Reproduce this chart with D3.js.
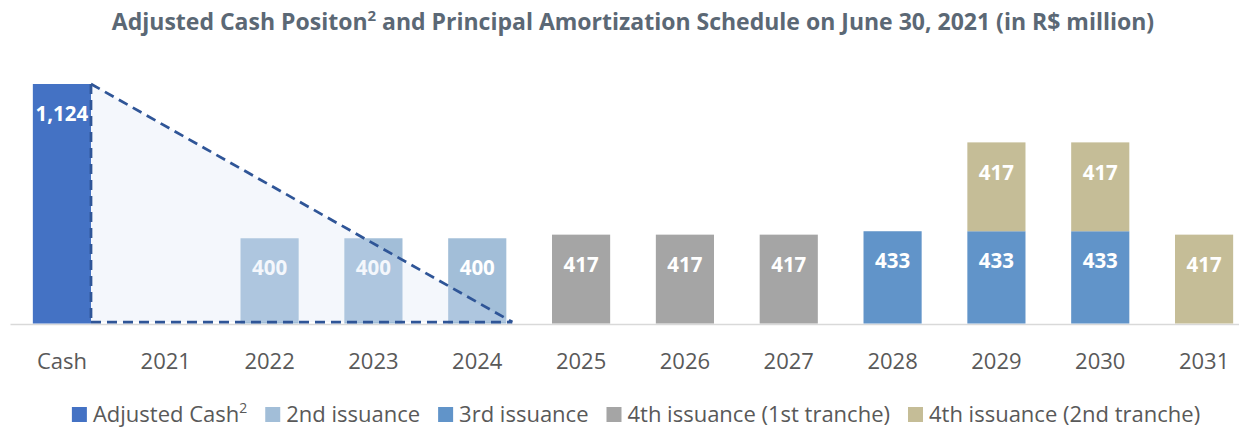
<!DOCTYPE html>
<html>
<head>
<meta charset="utf-8">
<script src="https://cdn.jsdelivr.net/npm/d3@7"></script>
<style>
  body { margin: 0; background: #fff; }
  text { font-family: "Open Sans", "Noto Sans", sans-serif; }
</style>
</head>
<body>
<svg width="1239" height="427"></svg>
<script>
// Data
let categories = ['Cash', '2021', '2022', '2023', '2024', '2025', '2026', '2027', '2028', '2029', '2030', '2031']
let adjustedCash = [1124, 0, 0, 0, 0, 0, 0, 0, 0, 0, 0, 0]
let secondIssuance = [0, 0, 400, 400, 400, 0, 0, 0, 0, 0, 0, 0]
let thirdIssuance = [0, 0, 0, 0, 0, 0, 0, 0, 433, 433, 433, 0]
let fourthFirstTranche = [0, 0, 0, 0, 0, 417, 417, 417, 0, 0, 0, 0]
let fourthSecondTranche = [0, 0, 0, 0, 0, 0, 0, 0, 0, 417, 417, 417]
let seriesNames = ['Adjusted Cash', '2nd issuance', '3rd issuance', '4th issuance (1st tranche)', '4th issuance (2nd tranche)']
let seriesColors = ['#4472c4', '#a2bed8', '#6194c9', '#a5a5a5', '#c5bd97']

let rows = categories.map((c, i) => ({
    cat: c,
    'Adjusted Cash': adjustedCash[i],
    '2nd issuance': secondIssuance[i],
    '3rd issuance': thirdIssuance[i],
    '4th issuance (1st tranche)': fourthFirstTranche[i],
    '4th issuance (2nd tranche)': fourthSecondTranche[i]
}))

let stacked = d3.stack().keys(seriesNames)(rows)

let svg = d3.select('svg')

let scale = {
    x: d3.scaleBand().domain(categories).range([10, 1256]).paddingInner(0.44).paddingOuter(0.22),
    y: d3.scaleLinear().domain([0, 1124]).range([323.5, 84])
}
let bw = scale.x.bandwidth()

// Title
let title = svg.append('text')
    .attr('x', 633)
    .attr('y', 30)
    .attr('text-anchor', 'middle')
    .attr('font-size', 23)
    .attr('font-weight', 'bold')
    .attr('fill', '#5b6875')
title.append('tspan').text('Adjusted Cash Positon')
title.append('tspan').attr('dy', -9).attr('font-size', 15).text('2')
title.append('tspan').attr('dy', 9).text(' and Principal Amortization Schedule on June 30, 2021 (in R$ million)')

// Triangle (cash coverage)
let x0 = scale.x('Cash') + bw
let x1 = scale.x('2024') + bw + 6
let yTop = scale.y(1124)
let yBase = scale.y(0) - 1.5
let triangle = `M${x0},${yTop} L${x1},${yBase} L${x0},${yBase} Z`

// Axis
let axis = svg.append('g')
    .attr('transform', `translate(0,${scale.y(0) + 0.5})`)
    .call(d3.axisBottom(scale.x).tickSize(0).tickPadding(29))
axis.select('.domain').attr('stroke', '#d9d9d9').attr('stroke-width', 1.5)
axis.selectAll('text')
    .attr('font-size', 22)
    .attr('fill', '#595959')
    .style('font-family', '"Open Sans", "Noto Sans", sans-serif')

// Bars
let layers = svg.append('g').selectAll('g')
    .data(stacked)
    .join('g')
    .attr('fill', (d, i) => seriesColors[i])

layers.selectAll('rect')
    .data(d => d.filter(s => s[1] - s[0] > 0))
    .join('rect')
    .attr('x', d => scale.x(d.data.cat))
    .attr('y', d => scale.y(d[1]))
    .attr('width', bw)
    .attr('height', d => scale.y(d[0]) - scale.y(d[1]))

// light overlay of triangle over bars
svg.append('path')
    .attr('d', triangle)
    .attr('fill', '#d5e0f3')
    .attr('fill-opacity', 0.25)

// Dashed outline of triangle
let dash = svg.append('g')
    .attr('fill', 'none')
    .attr('stroke', '#2f5597')
    .attr('stroke-width', 2.75)
    .attr('stroke-dasharray', '10,6')
dash.append('line').attr('x1', x0).attr('y1', yTop).attr('x2', x1).attr('y2', yBase)
dash.append('line').attr('x1', x0).attr('y1', yTop).attr('x2', x0).attr('y2', yBase)
dash.append('line').attr('x1', x0).attr('y1', yBase).attr('x2', x1).attr('y2', yBase)

// Labels
layers.selectAll('text')
    .data(d => d.filter(s => s[1] - s[0] > 0))
    .join('text')
    .attr('x', d => scale.x(d.data.cat) + bw / 2)
    .attr('y', d => scale.y(d[1]) + 30)
    .attr('dy', '0.35em')
    .attr('text-anchor', 'middle')
    .attr('font-size', 20.5)
    .attr('font-weight', 'bold')
    .attr('fill', '#ffffff')
    .text(d => d3.format(',')(d[1] - d[0]))

// Legend
let legend = svg.append('g')
let lx = 0
seriesNames.forEach((name, i) => {
    let item = legend.append('g').attr('transform', `translate(${lx},0)`)
    item.append('rect')
        .attr('x', 0).attr('y', -15)
        .attr('width', 15).attr('height', 15)
        .attr('fill', seriesColors[i])
    let t = item.append('text')
        .attr('x', 21)
        .attr('y', 0)
        .attr('font-size', 22)
        .attr('fill', '#595959')
    t.append('tspan').text(name)
    if (i === 0) t.append('tspan').attr('dy', -9).attr('font-size', 14).text('2')
    lx += 21 + t.node().getComputedTextLength() + 18
})
let legendWidth = lx - 18
legend.attr('transform', `translate(${636 - legendWidth / 2},422)`)
</script>
</body>
</html>
